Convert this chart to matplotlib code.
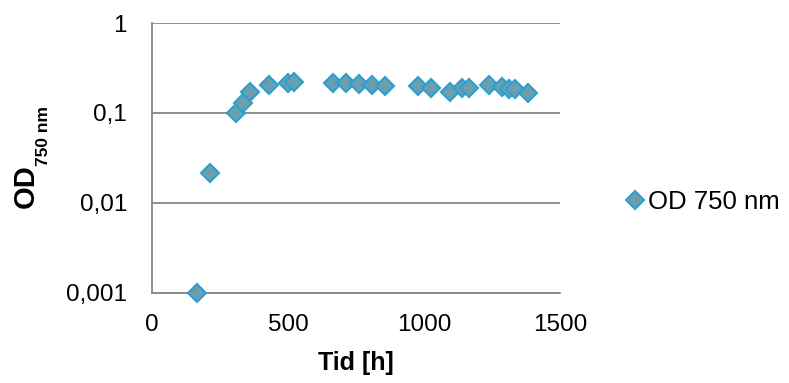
import matplotlib
matplotlib.use("Agg")
import matplotlib.pyplot as plt
from matplotlib.ticker import FixedLocator, FixedFormatter, NullLocator

plt.rcParams['font.family'] = ['Liberation Sans', 'DejaVu Sans']

time_h = [165, 213, 309, 335, 360, 430, 500, 522, 665, 713, 761, 809, 857,
          978, 1026, 1096, 1140, 1165, 1239, 1287, 1312, 1335, 1382]
od750 = [0.001, 0.0215, 0.1, 0.129, 0.171, 0.205, 0.218, 0.221, 0.215, 0.215,
         0.208, 0.207, 0.2, 0.2, 0.19, 0.17, 0.19, 0.19, 0.207, 0.195, 0.185,
         0.185, 0.167]
y_ticks = [0.001, 0.01, 0.1, 1]
y_labels = ['0,001', '0,01', '0,1', '1']
x_ticks = [0, 500, 1000, 1500]

fig = plt.figure(figsize=(7.89, 3.83), dpi=100)
ax = fig.add_axes([152/789, 90/383, 408/789, 270/383])

ax.plot(time_h, od750, linestyle='none', marker='D', markersize=9,
        markerfacecolor='#6b9fae', markeredgecolor='#2b9fd0',
        markeredgewidth=1.5, label='OD 750 nm', zorder=3, clip_on=False)

ax.set_yscale('log')
ax.set_ylim(0.001, 1)
ax.set_xlim(0, 1500)
ax.yaxis.set_major_locator(FixedLocator(y_ticks))
ax.yaxis.set_major_formatter(FixedFormatter(y_labels))
ax.yaxis.set_minor_locator(NullLocator())
ax.set_xticks(x_ticks)
ax.set_xticklabels([str(v) for v in x_ticks])

ax.grid(axis='y', color='#868686', linewidth=1.3)
ax.set_axisbelow(True)
for s in ['top', 'right']:
    ax.spines[s].set_visible(False)
for s in ['left', 'bottom']:
    ax.spines[s].set_color('#868686')
    ax.spines[s].set_linewidth(1.3)
ax.tick_params(axis='both', length=0, labelsize=17.5)
ax.tick_params(axis='y', pad=18)
ax.tick_params(axis='x', pad=15)

ax.set_xlabel('Tid [h]', fontsize=18, fontweight='bold', labelpad=11)

# y label with subscript
fig.text(26/789, 1 - 208/383, 'OD', rotation=90, ha='center', va='bottom',
         fontsize=21, fontweight='bold')
fig.text(44/789, 1 - 166/383, '750 nm', rotation=90, ha='center', va='bottom',
         fontsize=12.5, fontweight='bold')

fig.legend(loc='center left', bbox_to_anchor=(625/789, 1 - 202/383), frameon=False,
           fontsize=18.5, handlelength=0.8, handletextpad=0.1, borderpad=0,
           borderaxespad=0)

fig.savefig('out.png', dpi=100)
